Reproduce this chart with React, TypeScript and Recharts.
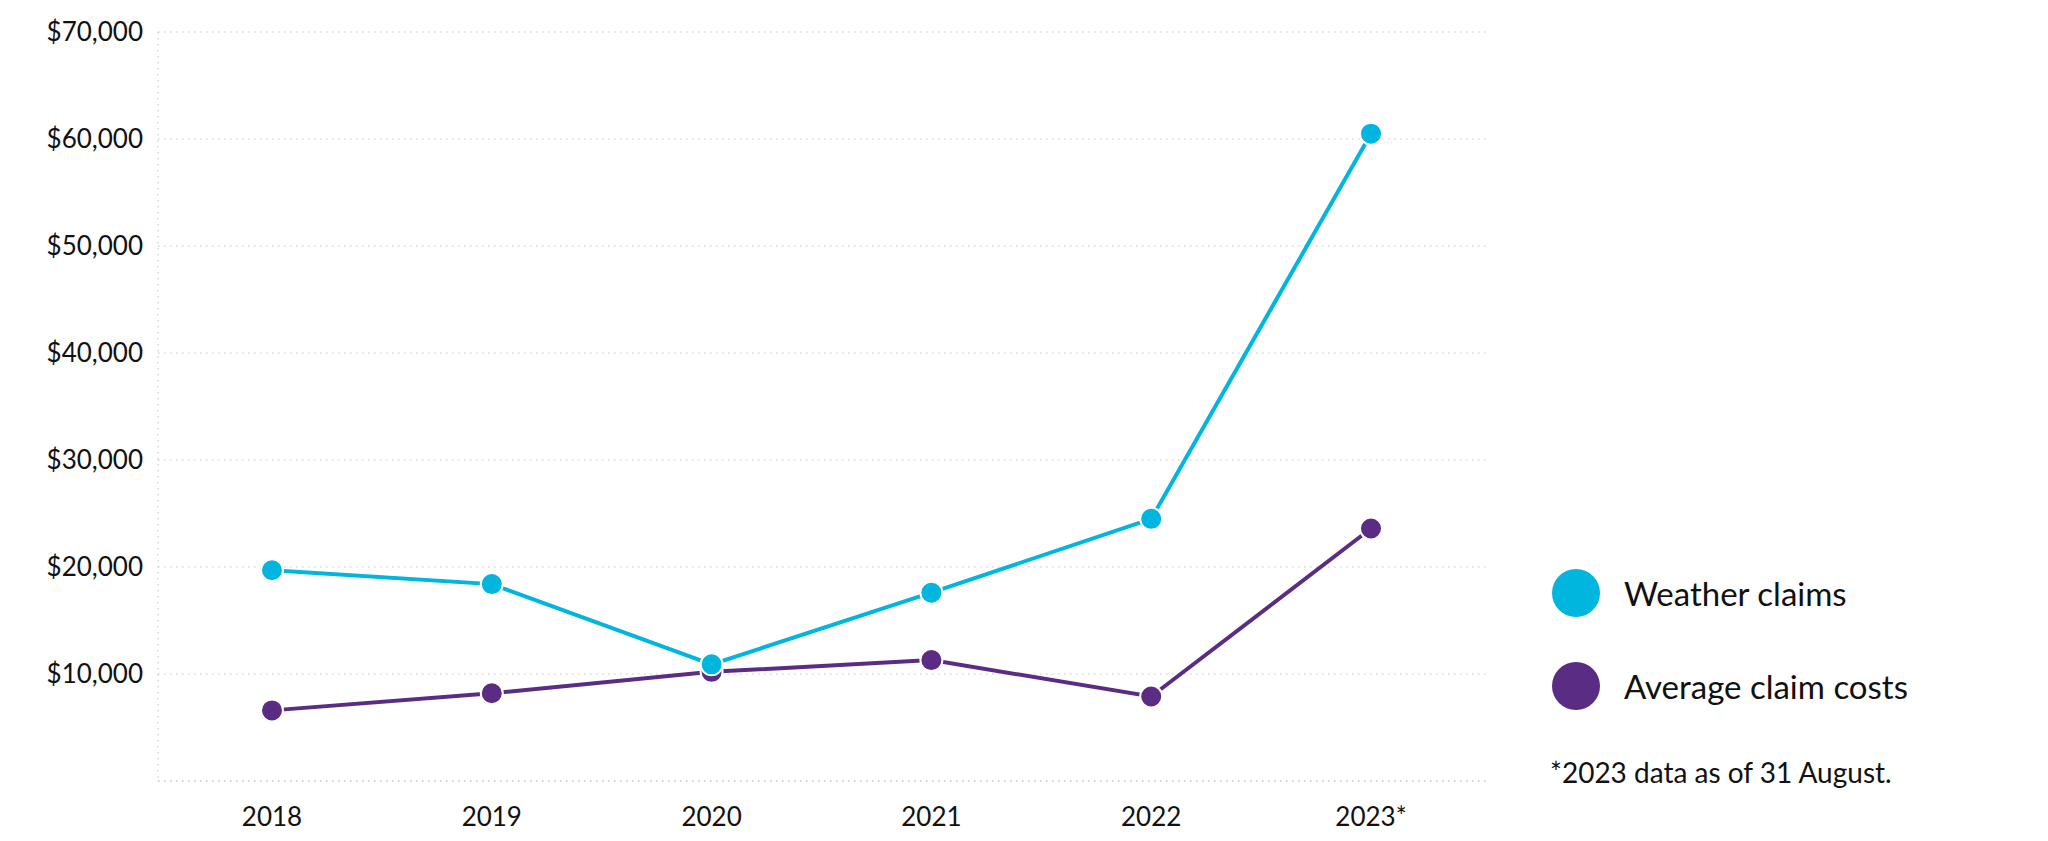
import React from "react";
import {
  LineChart,
  Line,
  XAxis,
  YAxis,
  CartesianGrid,
} from "recharts";

const years = ["2018", "2019", "2020", "2021", "2022", "2023*"];
const weatherClaims = [19700, 18400, 10900, 17600, 24500, 60500];
const averageClaimCosts = [6600, 8200, 10200, 11300, 7900, 23600];
const yTicks = [0, 10000, 20000, 30000, 40000, 50000, 60000, 70000];

const CYAN = "#00b5de";
const PURPLE = "#5b2c83";
const GRID = "#c4c4c4";
const FONT = "Lato, 'Open Sans', sans-serif";

const data = years.map((year, i) => ({
  year,
  weather: weatherClaims[i],
  average: averageClaimCosts[i],
}));

const fmt = (v: number) => (v === 0 ? "" : "$" + v.toLocaleString("en-US"));

export default function App() {
  return (
    <div
      style={{
        position: "fixed",
        top: 0,
        left: 0,
        width: 2048,
        height: 841,
        background: "#fff",
        fontFamily: FONT,
      }}
    >
      <LineChart
        width={1520}
        height={841}
        data={data}
        margin={{ top: 32, right: 30, left: 8, bottom: 10 }}
      >
        <CartesianGrid vertical={false} stroke={GRID} strokeDasharray="1.5 4.5" />
        <XAxis
          dataKey="year"
          padding={{ left: 114, right: 119 }}
          axisLine={{ stroke: GRID, strokeDasharray: "1.5 4.5" }}
          tickLine={false}
          tickSize={0}
          tickMargin={27}
          height={50}
          tick={{ fill: "#111", fontSize: 26, fontFamily: FONT }}
        />
        <YAxis
          width={150}
          domain={[0, 70000]}
          ticks={yTicks}
          tickFormatter={fmt}
          axisLine={{ stroke: GRID, strokeDasharray: "1.5 4.5" }}
          tickLine={false}
          tickSize={0}
          tickMargin={15}
          tick={{ fill: "#111", fontSize: 26, fontFamily: FONT }}
        />
        <Line
          dataKey="average"
          stroke={PURPLE}
          strokeWidth={4}
          dot={{ r: 11, fill: PURPLE, stroke: "#fff", strokeWidth: 2 }}
          isAnimationActive={false}
        />
        <Line
          dataKey="weather"
          stroke={CYAN}
          strokeWidth={4}
          dot={{ r: 11, fill: CYAN, stroke: "#fff", strokeWidth: 2 }}
          isAnimationActive={false}
        />
      </LineChart>

      {[
        { label: "Weather claims", color: CYAN, y: 593 },
        { label: "Average claim costs", color: PURPLE, y: 686 },
      ].map((item) => (
        <div
          key={item.label}
          style={{
            position: "absolute",
            left: 1552,
            top: item.y - 24,
            height: 48,
            display: "flex",
            alignItems: "center",
          }}
        >
          <span
            style={{
              width: 48,
              height: 48,
              borderRadius: "50%",
              background: item.color,
              display: "inline-block",
            }}
          />
          <span style={{ marginLeft: 24, fontSize: 33, color: "#111" }}>{item.label}</span>
        </div>
      ))}
      <div
        style={{
          position: "absolute",
          left: 1550,
          top: 755,
          fontSize: 28,
          color: "#111",
        }}
      >
        *2023 data as of 31 August.
      </div>
    </div>
  );
}
